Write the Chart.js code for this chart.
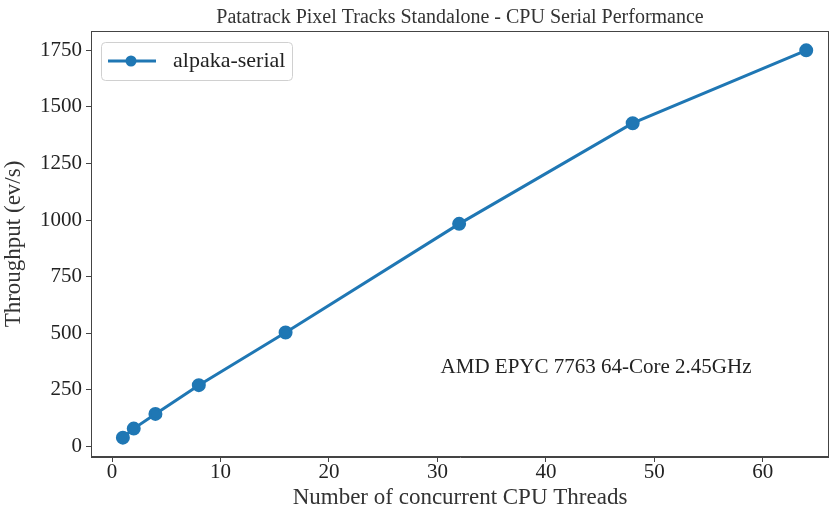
<!DOCTYPE html>
<html>
<head>
<meta charset="utf-8">
<script src="https://cdn.jsdelivr.net/npm/chart.js@4/dist/chart.umd.min.js"></script>
<style>
  html, body { margin: 0; padding: 0; background: #fff; }
  #wrap { width: 829px; height: 509px; }
</style>
</head>
<body>
<div id="wrap"><canvas id="chart"></canvas></div>
<script>
const threads = [1, 2, 4, 8, 16, 32, 48, 64];
const throughput = [38, 78, 143, 270, 503, 983, 1428, 1750];
const xTicks = [0, 10, 20, 30, 40, 50, 60];
const yTicks = [0, 250, 500, 750, 1000, 1250, 1500, 1750];
const seriesName = "alpaka-serial";
const chartTitle = "Patatrack Pixel Tracks Standalone - CPU Serial Performance";
const machine = "AMD EPYC 7763 64-Core 2.45GHz";

const FONT = "'Liberation Serif', 'DejaVu Serif', serif";
const BLUE = "#1f77b4";
const SPINE = "#444";

// frame, title over the axes, legend and machine note (matplotlib look)
const extras = {
  id: "extras",
  afterDraw(chart) {
    const { ctx, chartArea: a } = chart;
    const midX = 460;
    ctx.save();
    ctx.strokeStyle = SPINE;
    ctx.lineWidth = 1;
    ctx.strokeRect(a.left + 0.5, a.top + 0.5, a.right - a.left - 1, a.bottom - a.top - 1);

    ctx.fillStyle = "#333";
    ctx.font = "20px " + FONT;
    ctx.textAlign = "center";
    ctx.textBaseline = "alphabetic";
    ctx.fillText(chartTitle, midX, a.top - 8);

    // legend box
    const lx = a.left + 10, ly = a.top + 11, lw = 191, lh = 38;
    ctx.fillStyle = "rgba(255,255,255,0.8)";
    ctx.strokeStyle = "#d0d0d0";
    ctx.beginPath();
    ctx.roundRect(lx + 0.5, ly + 0.5, lw, lh, 4);
    ctx.fill();
    ctx.stroke();
    const cy = ly + lh / 2;
    ctx.strokeStyle = BLUE;
    ctx.lineWidth = 3;
    ctx.beginPath();
    ctx.moveTo(lx + 7, cy);
    ctx.lineTo(lx + 55, cy);
    ctx.stroke();
    ctx.fillStyle = BLUE;
    ctx.beginPath();
    ctx.arc(lx + 30, cy, 5.5, 0, Math.PI * 2);
    ctx.fill();
    ctx.fillStyle = "#222";
    ctx.font = "22px " + FONT;
    ctx.textAlign = "left";
    ctx.textBaseline = "middle";
    ctx.fillText(chart.data.datasets[0].label, lx + 72, cy);

    // machine annotation
    ctx.font = "21px " + FONT;
    ctx.textAlign = "center";
    ctx.fillText(machine, 596, a.top + (a.bottom - a.top) * 0.791);
    ctx.restore();
  }
};

new Chart("chart", {
  type: "line",
  plugins: [extras],
  data: {
    datasets: [{
      label: seriesName,
      data: threads.map((t, i) => ({ x: t, y: throughput[i] })),
      borderColor: BLUE,
      backgroundColor: BLUE,
      borderWidth: 3,
      pointRadius: 5.5,
      pointHoverRadius: 5.5,
      tension: 0,
    }],
  },
  options: {
    animation: false,
    maintainAspectRatio: false,
    responsive: true,
    layout: { autoPadding: false, padding: { left: 0, right: 0, top: 31, bottom: 0 } },
    plugins: {
      legend: { display: false },
      tooltip: { enabled: false },
      title: { display: false },
    },
    scales: {
      x: {
        type: "linear",
        min: -1.94,
        max: 66.1,
        afterBuildTicks: (ax) => { ax.ticks = xTicks.map((v) => ({ value: v })); },
        afterFit: (ax) => { ax.height = 52; },
        grid: { display: true, drawOnChartArea: false, drawTicks: true, tickLength: 5, color: SPINE },
        border: { display: true, color: SPINE },
        ticks: {
          color: "#222", padding: 0, maxRotation: 0,
          font: { family: FONT, size: 21, lineHeight: 1 },
          callback: (v) => String(v),
        },
        title: {
          display: true,
          text: "Number of concurrent CPU Threads",
          color: "#333",
          padding: { top: 0, bottom: -2 },
          font: { family: FONT, size: 23, lineHeight: 1.1 },
        },
      },
      y: {
        type: "linear",
        min: -47.6,
        max: 1835.6,
        afterBuildTicks: (ax) => { ax.ticks = yTicks.map((v) => ({ value: v })); },
        afterFit: (ax) => { ax.width = 91; },
        grid: { display: true, drawOnChartArea: false, drawTicks: true, tickLength: 5, color: SPINE },
        border: { display: true, color: SPINE },
        ticks: {
          color: "#222", padding: 4,
          font: { family: FONT, size: 21 },
          callback: (v) => String(v),
        },
        title: {
          display: true,
          text: "Throughput (ev/s)",
          color: "#333",
          padding: { top: 0, bottom: 2 },
          font: { family: FONT, size: 23 },
        },
      },
    },
  },
});
</script>
</body>
</html>
